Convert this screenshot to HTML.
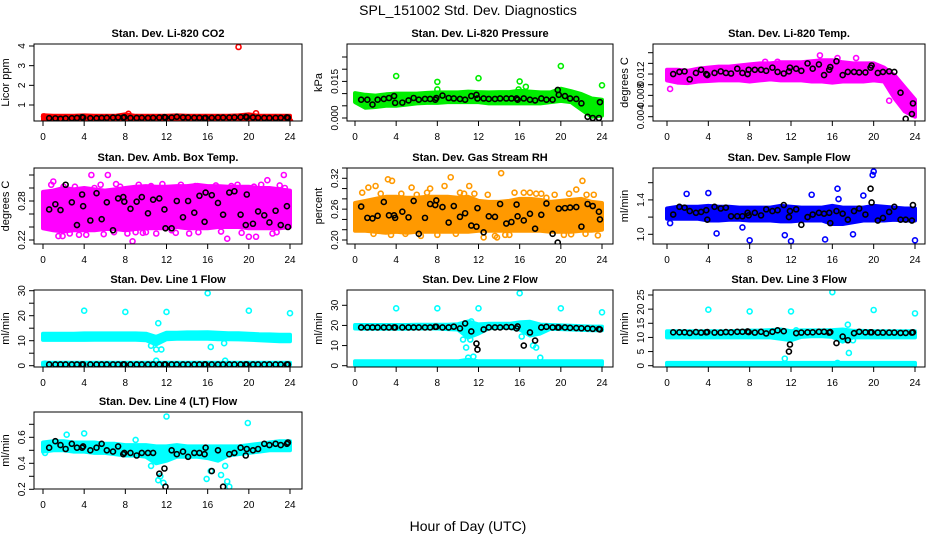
<!DOCTYPE html>
<html><head><meta charset="utf-8"><style>
body{margin:0;background:#fff;}
svg{display:block;font-family:"Liberation Sans",sans-serif;}
</style></head><body>
<svg id="chart" width="936" height="540" viewBox="0 0 936 540" xmlns="http://www.w3.org/2000/svg">
<text x="468" y="15" text-anchor="middle" font-size="14">SPL_151002  Std. Dev. Diagnostics</text>
<text x="468" y="531" text-anchor="middle" font-size="14">Hour of Day (UTC)</text>
</svg>
<script>
// shared data
const bandHours = [0,1,2,3,4,5,6,7,8,9,10,11,12,13,14,15,16,17,18,19,20,21,22,23,24];
const blackHours = [0.6,1.2,1.7,2.2,2.8,3.3,3.8,3.9,4.6,5.2,5.7,6.2,6.8,7.3,7.8,7.9,8.5,9.1,9.6,10.2,10.7,11.3,11.8,11.9,12.5,13.0,13.6,14.1,14.7,15.2,15.7,15.8,16.4,17.0,17.5,18.1,18.6,19.2,19.7,19.8,20.4,20.9,21.5,22.0,22.6,23.1,23.7,23.8];
const xTicks = [0,4,8,12,16,20,24];

// panel 1 CO2
const co2Lo = [0.25,0.25,0.25,0.25,0.25,0.25,0.25,0.25,0.25,0.25,0.25,0.25,0.25,0.25,0.25,0.25,0.25,0.25,0.25,0.25,0.25,0.25,0.25,0.25,0.25];
const co2Hi = [0.48,0.45,0.45,0.45,0.47,0.45,0.45,0.45,0.52,0.45,0.45,0.45,0.45,0.47,0.45,0.45,0.45,0.45,0.45,0.47,0.52,0.45,0.45,0.45,0.45];
const co2OutX = [19.0,0.1,8.3,20.7,24.0];
const co2OutY = [3.95,0.42,0.55,0.58,0.18];
const co2Black = [0.33,0.32,0.30,0.32,0.33,0.34,0.38,0.36,0.33,0.33,0.34,0.35,0.36,0.37,0.36,0.38,0.34,0.34,0.35,0.34,0.35,0.36,0.38,0.36,0.36,0.40,0.37,0.36,0.35,0.35,0.33,0.34,0.35,0.36,0.36,0.36,0.37,0.38,0.40,0.38,0.37,0.35,0.34,0.34,0.34,0.35,0.37,0.35];
const co2Ticks = [1,2,3,4];

// panel 2 pressure
const prLo = [0.0065,0.0042,0.0045,0.0050,0.0050,0.0055,0.0060,0.0062,0.0062,0.0065,0.0065,0.0065,0.0065,0.0060,0.0060,0.0060,0.0060,0.0060,0.0060,0.0065,0.0070,0.0065,0.0035,0.0005,0.0010];
const prHi = [0.0102,0.0095,0.0092,0.0097,0.0100,0.0100,0.0100,0.0103,0.0105,0.0105,0.0105,0.0108,0.0106,0.0105,0.0106,0.0106,0.0112,0.0108,0.0105,0.0105,0.0120,0.0110,0.0098,0.0080,0.0075];
const prOutX = [4.0,8.0,12.0,16.0,20.0,24.0,8.0,16.6,15.9];
const prOutY = [0.0172,0.0148,0.0163,0.0150,0.0213,0.0134,0.0117,0.0128,0.0117];
const prBlack = [0.0075,0.0075,0.0055,0.0075,0.0078,0.0082,0.0090,0.0062,0.0063,0.0072,0.0082,0.0075,0.0078,0.0078,0.0075,0.0082,0.0092,0.0082,0.0080,0.0078,0.0075,0.0090,0.0095,0.0080,0.0080,0.0078,0.0078,0.0080,0.0080,0.0080,0.0080,0.0075,0.0080,0.0075,0.0072,0.0080,0.0075,0.0075,0.0115,0.0095,0.0090,0.0080,0.0078,0.0060,0.0005,0.0000,0.0000,0.0065];
const prTicks = [0,0.005,0.010,0.015,0.020,0.025];
const prLabels = ["0.000","","","0.015","",""];

// panel 3 temp
const tpLo = [0.0108,0.0104,0.0103,0.0106,0.0107,0.0108,0.0108,0.0108,0.0106,0.0108,0.0110,0.0108,0.0108,0.0108,0.0106,0.0106,0.0104,0.0106,0.0106,0.0106,0.0108,0.0106,0.0075,0.0050,0.0040];
const tpHi = [0.0128,0.0128,0.0126,0.0130,0.0132,0.0134,0.0134,0.0136,0.0138,0.0140,0.0140,0.0142,0.0142,0.0142,0.0144,0.0146,0.0146,0.0142,0.0140,0.0140,0.0140,0.0132,0.0118,0.0095,0.0072];
const tpOutX = [0.3,14.8,16.5,18.3,21.5,22.0,9.5,10.7];
const tpOutY = [0.0092,0.0155,0.0150,0.0150,0.0070,0.0085,0.0143,0.0143];
const tpBlack = [0.0120,0.0124,0.0125,0.0110,0.0122,0.0128,0.0120,0.0118,0.0122,0.0125,0.0122,0.0121,0.0130,0.0122,0.0120,0.0128,0.0128,0.0128,0.0126,0.0132,0.0124,0.0121,0.0125,0.0132,0.0130,0.0126,0.0140,0.0130,0.0138,0.0118,0.0128,0.0133,0.0144,0.0118,0.0124,0.0124,0.0123,0.0123,0.0132,0.0136,0.0122,0.0124,0.0125,0.0124,0.0085,0.0036,0.0045,0.0065];
const tpTicks = [0.004,0.006,0.008,0.010,0.012,0.014,0.016];
const tpLabels = ["0.004","","0.008","","0.012","",""];

// panel 4 amb box temp
const abLo = [0.238,0.235,0.233,0.235,0.235,0.235,0.237,0.237,0.235,0.237,0.238,0.238,0.238,0.240,0.238,0.238,0.238,0.240,0.240,0.240,0.238,0.238,0.238,0.238,0.240];
const abHi = [0.294,0.296,0.300,0.298,0.300,0.298,0.296,0.298,0.300,0.302,0.303,0.302,0.302,0.303,0.303,0.305,0.303,0.303,0.302,0.302,0.302,0.300,0.300,0.298,0.296];
const abOutX = [1.5,1.0,4.7,6.3,5.0,8.7,9.3,12.5,17.9,20.0,20.7,22.7,23.4,0.3,2.0,3.5,7.5,10.0,13.4,16.0,18.9,21.8,23.5,14.2,0.8,2.6,3.1,4.2,5.6,6.9,7.1,8.2,9.0,10.5,11.0,11.6,12.9,14.8,15.1,16.8,17.3,18.3,19.3,20.5,21.2,22.3,23.0,1.9,5.9,9.7];
const abOutY = [0.226,0.310,0.320,0.320,0.300,0.218,0.305,0.235,0.222,0.225,0.225,0.232,0.320,0.280,0.302,0.228,0.302,0.232,0.305,0.300,0.305,0.312,0.300,0.230,0.305,0.230,0.302,0.228,0.305,0.232,0.306,0.230,0.232,0.303,0.230,0.306,0.231,0.303,0.232,0.304,0.233,0.303,0.231,0.302,0.305,0.230,0.304,0.226,0.229,0.231];
const abBlack = [0.267,0.275,0.266,0.305,0.278,0.243,0.290,0.272,0.250,0.292,0.252,0.278,0.235,0.284,0.286,0.279,0.268,0.279,0.286,0.261,0.282,0.284,0.267,0.238,0.238,0.280,0.255,0.280,0.262,0.288,0.248,0.293,0.289,0.277,0.259,0.293,0.295,0.259,0.243,0.290,0.245,0.264,0.258,0.247,0.265,0.243,0.272,0.240];
const abTicks = [0.22,0.24,0.26,0.28,0.30,0.32];
const abLabels = ["0.22","","","0.28","",""];

// panel 5 RH
const rhLo = [0.218,0.218,0.216,0.214,0.216,0.214,0.216,0.216,0.216,0.216,0.216,0.216,0.218,0.218,0.218,0.218,0.218,0.218,0.218,0.216,0.216,0.216,0.218,0.218,0.220];
const rhHi = [0.272,0.276,0.280,0.284,0.284,0.282,0.282,0.284,0.284,0.284,0.282,0.284,0.276,0.274,0.274,0.276,0.280,0.280,0.278,0.274,0.276,0.278,0.280,0.274,0.272];
const rhOutX = [1.3,2.0,3.2,3.6,4.5,5.5,7.3,8.7,9.3,10.6,11.1,12.5,14.2,13.8,15.5,16.4,17.0,18.6,20.8,21.5,22.1,22.5,3.5,8.0,13.6,22.4,0.7,2.5,4.9,6.0,7.0,9.8,11.6,12.9,15.0,17.6,19.4,20.3,23.2,1.8,6.4,10.2,14.6,18.1,21.0,23.6];
const rhOutY = [0.302,0.305,0.318,0.315,0.290,0.302,0.300,0.305,0.322,0.290,0.305,0.205,0.330,0.205,0.292,0.292,0.292,0.282,0.290,0.298,0.315,0.288,0.210,0.210,0.208,0.212,0.292,0.290,0.212,0.288,0.292,0.212,0.290,0.288,0.210,0.290,0.288,0.210,0.288,0.212,0.208,0.292,0.210,0.290,0.211,0.209];
const rhBlack = [0.265,0.243,0.242,0.247,0.274,0.248,0.248,0.243,0.255,0.244,0.276,0.212,0.243,0.270,0.268,0.277,0.264,0.234,0.266,0.245,0.252,0.228,0.226,0.262,0.215,0.246,0.245,0.270,0.232,0.235,0.269,0.246,0.238,0.251,0.222,0.249,0.271,0.212,0.195,0.261,0.262,0.263,0.264,0.226,0.270,0.266,0.255,0.240];
const rhTicks = [0.20,0.22,0.24,0.26,0.28,0.30,0.32,0.34];
const rhLabels = ["0.20","","","0.26","","","0.32",""];

// panel 6 sample flow
const sfLo = [1.18,1.18,1.18,1.18,1.16,1.16,1.17,1.17,1.16,1.16,1.16,1.15,1.15,1.16,1.16,1.16,1.12,1.12,1.14,1.16,1.16,1.16,1.17,1.16,1.16];
const sfHi = [1.30,1.32,1.32,1.32,1.33,1.32,1.32,1.31,1.31,1.31,1.31,1.33,1.32,1.31,1.31,1.31,1.33,1.31,1.31,1.31,1.33,1.32,1.31,1.30,1.30];
const sfOutX = [4.0,4.8,8.0,12.0,11.4,15.3,16.5,16.6,18.0,19.0,19.9,20.0,24.0,14.0,1.9,7.3,0.3];
const sfOutY = [1.48,1.01,0.93,0.92,0.99,0.94,1.53,1.41,1.00,1.45,1.69,1.73,0.93,1.46,1.47,1.08,1.13];
const sfBlack = [1.23,1.32,1.31,1.27,1.25,1.26,1.28,1.17,1.32,1.30,1.31,1.21,1.21,1.21,1.25,1.22,1.25,1.22,1.29,1.27,1.28,1.34,1.20,1.27,1.29,1.11,1.20,1.23,1.25,1.24,1.25,1.13,1.27,1.24,1.17,1.27,1.30,1.23,1.53,1.37,1.16,1.19,1.26,1.32,1.17,1.17,1.16,1.34];
const sfTicks = [1.0,1.2,1.4,1.6];
const sfLabels = ["1.0","","1.4",""];

// panel 7 line 1
const l1Lo = [10.3,10.3,10.3,10.3,10.3,10.4,10.4,10.4,10.4,10.4,10.2,8.5,10.6,10.8,10.8,10.8,10.8,10.6,10.6,10.5,10.4,10.2,10.0,9.8,9.8];
const l1Hi = [12.8,12.8,12.8,12.8,12.9,12.9,12.9,12.9,12.9,12.9,12.8,11.5,13.2,13.2,13.3,13.3,13.4,13.2,13.0,13.0,12.8,12.6,12.5,12.4,12.4];
const l1OutX = [4.0,8.0,12.0,16.0,20.0,24.0,11.2,10.5,11.0,11.5,16.3,17.6,0.2,11.0,17.7];
const l1OutY = [22,21.5,21.5,29,22,21,17,8,6.5,6.5,7.5,9,0.8,2,2];
const l1Base = [0.3,0.3,0.3,0.3,0.3,0.3,0.3,0.3,0.3,0.3,0.3,0.3,0.3,0.3,0.3,0.3,0.3,0.3,0.3,0.3,0.3,0.3,0.3,0.3,0.3];
const l1BaseHi = [1.2,1.2,1.2,1.2,1.2,1.2,1.2,1.2,1.2,1.2,1.2,1.2,1.2,1.2,1.2,1.2,1.2,1.2,1.2,1.2,1.2,1.2,1.2,1.2,1.2];
const l1Black = [0.5,0.5,0.5,0.5,0.5,0.5,0.5,0.5,0.5,0.5,0.5,0.5,0.5,0.5,0.5,0.5,0.5,0.5,0.5,0.5,0.5,0.5,0.5,0.5,0.5,0.5,0.5,0.5,0.5,0.5,0.5,0.5,0.5,0.5,0.5,0.5,0.5,0.5,0.5,0.5,0.5,0.5,0.5,0.5,0.5,0.5,0.5,0.5];
const l1Ticks = [0,5,10,15,20,25,30];
const l1Labels = ["0","","10","","20","","30"];

// panel 8 line 2
const l2Lo = [18.5,18.4,18.4,18.4,18.4,18.4,18.5,18.5,18.5,18.2,18.0,14.0,16.0,18.6,18.8,18.8,18.0,15.0,16.0,18.4,18.2,18.0,17.8,17.6,17.6];
const l2Hi = [20.2,20.2,20.2,20.2,20.2,20.2,20.3,20.3,20.3,20.3,20.6,22.0,20.5,20.8,20.8,20.8,21.5,21.8,20.4,20.2,20.0,19.8,19.6,19.4,19.4];
const l2OutX = [4.0,8.0,12.0,16.0,20.0,24.0,10.5,10.8,11.2,16.2,17.3,17.6,11.0,11.5,18.0,11.3];
const l2OutY = [28.5,28.5,28.5,36,28.5,26.5,13,9,13,14.5,10,9,4,4.5,4,22];
const l2Base = [0.5,0.5,0.5,0.5,0.5,0.5,0.5,0.5,0.5,0.5,0.5,0.5,0.5,0.5,0.5,0.5,0.5,0.5,0.5,0.5,0.5,0.5,0.5,0.5,0.5];
const l2BaseHi = [2.2,2.2,2.2,2.2,2.2,2.2,2.2,2.2,2.2,2.2,2.2,3.0,2.2,2.2,2.2,2.2,2.2,2.2,2.2,2.2,2.2,2.2,2.2,2.2,2.2];
const l2Black = [19,19,19,19,19,19,19,19,19,19,19,19,19,19,19.3,19.3,19,19,19.4,18.5,21,17,11,8,18,19,19,19,19.2,19.2,18.5,19.5,10,16.5,12.5,19,19.3,19,19,19,19,18.8,18.7,18.6,18.5,18.3,18.2,18];
const l2Ticks = [0,10,20,30];
const l2Labels = ["0","10","20","30"];

// panel 9 line 3
const l3Lo = [10.0,10.0,10.0,10.0,10.0,10.0,10.0,10.0,10.0,10.0,10.0,9.5,9.0,10.2,10.4,10.4,10.2,8.5,10.0,10.0,10.0,10.0,10.0,10.0,10.0];
const l3Hi = [12.2,12.2,12.2,12.2,12.2,12.2,12.2,12.3,12.4,12.4,12.6,12.8,12.2,12.5,12.5,12.5,12.6,12.8,12.3,12.3,12.2,12.2,12.2,12.2,12.2];
const l3OutX = [4.0,8.0,12.0,16.0,20.0,24.0,11.4,17.5,17.6,16.5,12.5,18.0];
const l3OutY = [19.8,19.2,19.2,26,19.7,18.5,2.5,14.5,4.5,1,12.5,9];
const l3Base = [0.1,0.1,0.1,0.1,0.1,0.1,0.1,0.1,0.1,0.1,0.1,0.1,0.1,0.1,0.1,0.1,0.1,0.1,0.1,0.1,0.1,0.1,0.1,0.1,0.1];
const l3BaseHi = [1.0,1.0,1.0,1.0,1.0,1.0,1.0,1.0,1.0,1.0,1.0,1.0,1.0,1.0,1.0,1.0,1.0,1.0,1.0,1.0,1.0,1.0,1.0,1.0,1.0];
const l3Black = [11.8,11.8,11.8,11.6,11.9,11.7,11.8,11.9,11.7,11.7,11.9,11.8,12.0,12.0,12.1,11.9,11.7,12.0,11.4,12.0,12.5,12.2,5,7.5,11.5,11.7,11.8,11.8,12.0,12.0,11.7,11.9,8,10.3,9,11.5,12.0,11.8,11.8,11.8,11.7,11.7,11.7,11.7,11.6,11.6,11.7,11.8];
const l3Ticks = [0,5,10,15,20,25];
const l3Labels = ["0","5","10","15","20","25"];

// panel 10 line 4
const l4Lo = [0.49,0.50,0.50,0.49,0.49,0.48,0.48,0.47,0.46,0.46,0.45,0.40,0.42,0.45,0.45,0.45,0.44,0.42,0.46,0.47,0.48,0.49,0.50,0.50,0.50];
const l4Hi = [0.56,0.57,0.57,0.56,0.56,0.56,0.55,0.55,0.54,0.54,0.54,0.53,0.53,0.54,0.53,0.53,0.53,0.53,0.53,0.53,0.54,0.55,0.56,0.57,0.57];
const l4OutX = [12.0,19.9,4.0,2.3,9.0,0.2,10.5,11.2,11.7,15.9,16.3,17.3,17.7,18.1,11.4,17.9];
const l4OutY = [0.76,0.71,0.63,0.62,0.58,0.48,0.38,0.27,0.25,0.28,0.34,0.31,0.38,0.22,0.30,0.26];
const l4Black = [0.52,0.57,0.54,0.51,0.55,0.52,0.52,0.53,0.50,0.52,0.55,0.50,0.49,0.53,0.47,0.48,0.48,0.46,0.48,0.48,0.48,0.32,0.36,0.22,0.50,0.47,0.49,0.45,0.48,0.48,0.47,0.52,0.34,0.50,0.22,0.47,0.48,0.52,0.46,0.51,0.50,0.51,0.55,0.54,0.55,0.54,0.55,0.56];
const l4Ticks = [0.2,0.3,0.4,0.5,0.6,0.7];
const l4Labels = ["0.2","","0.4","","0.6",""];

const NS = "http://www.w3.org/2000/svg";
const svg = document.getElementById("chart");
function mk(tag, attrs, parent){
  const e = document.createElementNS(NS, tag);
  for (const k in attrs) e.setAttribute(k, attrs[k]);
  (parent||svg).appendChild(e);
  return e;
}
const cols = [{l:34,r:302,x0:43,x1:290},{l:347,r:613,x0:355,x1:602},{l:653,r:925,x0:667,x1:915}];
const rows = [{t:44,b:121},{t:168,b:244},{t:290,b:367},{t:412,b:489}];

const panels = [
 {key:"co2",title:"Stan. Dev. Li-820 CO2",ylab:"Licor ppm",c:0,r:0,col:"#ff0000",v0:1,p0:105,v1:4,p1:46,ticks:co2Ticks,labels:["1","2","3","4"],lo:co2Lo,hi:co2Hi,ox:co2OutX,oy:co2OutY,blk:co2Black},
 {key:"pressure",title:"Stan. Dev. Li-820 Pressure",ylab:"kPa",c:1,r:0,col:"#00ee00",v0:0,p0:118,v1:0.025,p1:57,ticks:prTicks,labels:prLabels,lo:prLo,hi:prHi,ox:prOutX,oy:prOutY,blk:prBlack},
 {key:"temp",title:"Stan. Dev. Li-820 Temp.",ylab:"degrees C",c:2,r:0,col:"#ff00ff",v0:0.004,p0:116.7,v1:0.016,p1:52.7,ticks:tpTicks,labels:tpLabels,lo:tpLo,hi:tpHi,ox:tpOutX,oy:tpOutY,blk:tpBlack},
 {key:"amb-box-temp",title:"Stan. Dev. Amb. Box Temp.",ylab:"degrees C",c:0,r:1,col:"#ff00ff",v0:0.22,p0:240,v1:0.32,p1:175,ticks:abTicks,labels:abLabels,lo:abLo,hi:abHi,ox:abOutX,oy:abOutY,blk:abBlack},
 {key:"gas-rh",title:"Stan. Dev. Gas Stream RH",ylab:"percent",c:1,r:1,col:"#ff9900",v0:0.20,p0:240,v1:0.34,p1:168,ticks:rhTicks,labels:rhLabels,lo:rhLo,hi:rhHi,ox:rhOutX,oy:rhOutY,blk:rhBlack},
 {key:"sample-flow",title:"Stan. Dev. Sample Flow",ylab:"ml/min",c:2,r:1,col:"#0000ff",v0:1.0,p0:234.3,v1:1.6,p1:182.7,ticks:sfTicks,labels:sfLabels,lo:sfLo,hi:sfHi,ox:sfOutX,oy:sfOutY,blk:sfBlack},
 {key:"line1",title:"Stan. Dev. Line 1 Flow",ylab:"ml/min",c:0,r:2,col:"#00ffff",v0:0,p0:365.7,v1:30,p1:290.7,ticks:l1Ticks,labels:l1Labels,lo:l1Lo,hi:l1Hi,ox:l1OutX,oy:l1OutY,blk:l1Black,blo:l1Base,bhi:l1BaseHi},
 {key:"line2",title:"Stan. Dev. Line 2 Flow",ylab:"ml/min",c:1,r:2,col:"#00ffff",v0:0,p0:365.7,v1:30,p1:305.3,ticks:l2Ticks,labels:l2Labels,lo:l2Lo,hi:l2Hi,ox:l2OutX,oy:l2OutY,blk:l2Black,blo:l2Base,bhi:l2BaseHi},
 {key:"line3",title:"Stan. Dev. Line 3 Flow",ylab:"ml/min",c:2,r:2,col:"#00ffff",v0:0,p0:365.7,v1:25,p1:295,ticks:l3Ticks,labels:l3Labels,lo:l3Lo,hi:l3Hi,ox:l3OutX,oy:l3OutY,blk:l3Black,blo:l3Base,bhi:l3BaseHi},
 {key:"line4",title:"Stan. Dev. Line 4 (LT) Flow",ylab:"ml/min",c:0,r:3,col:"#00ffff",v0:0.2,p0:489.3,v1:0.6,p1:437.3,ticks:l4Ticks,labels:l4Labels,lo:l4Lo,hi:l4Hi,ox:l4OutX,oy:l4OutY,blk:l4Black}
];

panels.forEach(p => {
  const C = cols[p.c], R = rows[p.r];
  const g = mk("g", {});
  
  
  const xs = h => C.x0 + (h/24)*(C.x1 - C.x0);
  const ys = v => p.p0 + (v - p.v0)/(p.v1 - p.v0)*(p.p1 - p.p0);
  const clipId = "clip-" + p.key;
  const cp = mk("clipPath", {id:clipId}, g);
  mk("rect", {x:C.l, y:R.t, width:C.r-C.l, height:R.b-R.t}, cp);
  const data = mk("g", {"clip-path":"url(#"+clipId+")"}, g);
  function band(lo, hi, name){
    let d = "M";
    bandHours.forEach((h,i)=>{ d += xs(h).toFixed(1)+","+ys(hi[i]).toFixed(1)+" L"; });
    for (let i=bandHours.length-1;i>=0;i--) d += xs(bandHours[i]).toFixed(1)+","+ys(lo[i]).toFixed(1)+(i?" L":" Z");
    const b = mk("path", {d:d, fill:p.col, stroke:p.col, "stroke-width":4, "stroke-linejoin":"round"}, data);
    
    
  }
  band(p.lo, p.hi, p.key + '-data-band');
  if (p.blo) band(p.blo, p.bhi, p.key + '-baseline-band');
  p.ox.forEach((h,i)=>{
    const c = mk("circle", {cx:xs(h), cy:ys(p.oy[i]), r:2.5, fill:"none", stroke:p.col, "stroke-width":1.6}, data);
    
    
  });
  p.blk.forEach((v,i)=>{
    const c = mk("circle", {cx:xs(blackHours[i]), cy:ys(v), r:2.5, fill:"none", stroke:"#000", "stroke-width":1.6}, data);
    
    
  });
  const box = mk("rect", {x:C.l, y:R.t, width:C.r-C.l, height:R.b-R.t, fill:"none", stroke:"#000", "stroke-width":1}, g);
  
  
  xTicks.forEach(t=>{
    const x = xs(t);
    mk("line", {x1:x, x2:x, y1:R.b, y2:R.b+5, stroke:"#000"}, g);
    const tx = mk("text", {x:x, y:R.b+19, "text-anchor":"middle", "font-size":10}, g);
    tx.textContent = t;
    
    
  });
  p.ticks.forEach((t,i)=>{
    const y = ys(t);
    if (y < R.t-1 || y > R.b+1) return;
    mk("line", {x1:C.l-5, x2:C.l, y1:y, y2:y, stroke:"#000"}, g);
    if (p.labels[i]) {
      const tx = mk("text", {x:C.l-9, y:y, "text-anchor":"middle", "font-size":10, transform:"rotate(-90 "+(C.l-9)+" "+y+")"}, g);
      tx.textContent = p.labels[i];
      
      
    }
  });
  const ym = (R.t+R.b)/2;
  const yl = mk("text", {x:C.l-25, y:ym, "text-anchor":"middle", "font-size":11, transform:"rotate(-90 "+(C.l-25)+" "+ym+")"}, g);
  yl.textContent = p.ylab;
  
  
  const ti = mk("text", {x:(C.l+C.r)/2, y:R.t-7, "text-anchor":"middle", "font-size":11, "font-weight":"bold"}, g);
  ti.textContent = p.title;
  
  
});
</script>
</body></html>
